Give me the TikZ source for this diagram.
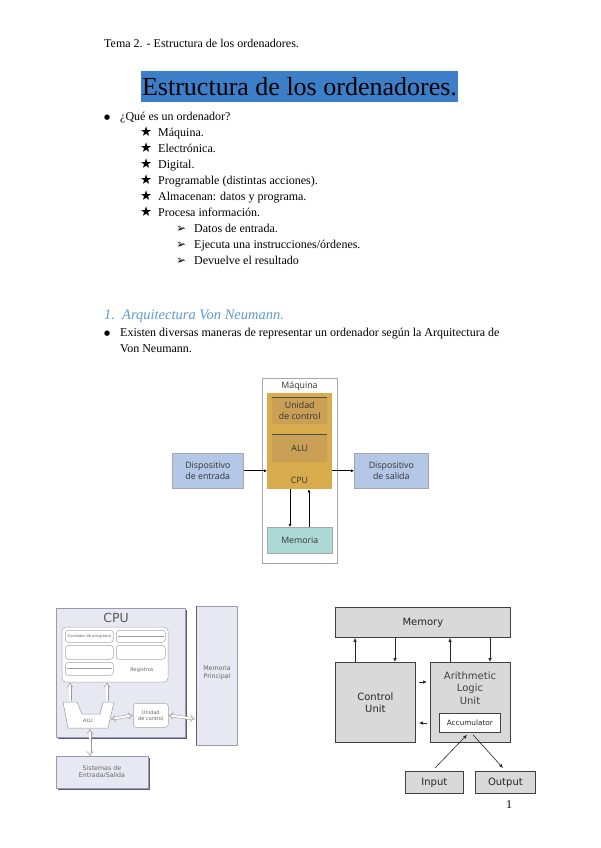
\documentclass[tikz,border=0pt]{standalone}
\usepackage{fontspec}
\setmainfont{Liberation Serif}
\newfontfamily\dsans{DejaVu Sans}
\newfontfamily\osans{Open Sans}
\usetikzlibrary{arrows.meta,calc}
\definecolor{titleblue}{HTML}{3D7EC8}
\definecolor{secblue}{HTML}{5B9BD5}
\definecolor{cpugold}{HTML}{D8AC4C}
\definecolor{innergold}{HTML}{C9A056}
\definecolor{devblue}{HTML}{B4C7E7}
\definecolor{memteal}{HTML}{ABD9D6}
\definecolor{lav}{HTML}{E8E8F2}
\definecolor{lavdark}{HTML}{5A5A80}
\definecolor{lavline}{HTML}{9A9AB0}
\definecolor{vngray}{HTML}{D9D9D9}
\definecolor{vnline}{HTML}{404040}
\tikzset{
  body/.style={anchor=base west, inner sep=0pt, font=\fontsize{12}{14}\selectfont},
  sym/.style={anchor=base west, inner sep=0pt, font=\dsans\fontsize{13.5}{14}\selectfont},
  arrsym/.style={anchor=base west, inner sep=0pt, font=\dsans\fontsize{12}{14}\selectfont},
  bul/.style={anchor=base west, inner sep=0pt, font=\dsans\fontsize{7}{8}\selectfont},
  boxA/.style={anchor=north west, inner sep=0pt, draw=gray!70, line width=0.6pt},
  lblA/.style={font=\osans\fontsize{8.8}{10.5}\selectfont, text=black!80, align=center, inner sep=0pt},
  arrA/.style={line width=1.1pt, -{Latex[length=3pt,width=3pt]}},
  arrAthin/.style={line width=0.7pt, -{Latex[length=3pt,width=3pt]}},
  lavbox/.style={fill=lav, draw=lavline, line width=0.5pt},
  pill/.style={draw=gray!70, fill=white, rounded corners=3pt, line width=0.5pt},
  tiny/.style={font=\dsans\fontsize{5}{6}\selectfont, text=black!60, align=center, inner sep=0pt},
  hol/.style={draw=gray!80, double=white, double distance=2pt, line width=0.5pt},
  vnbox/.style={anchor=north west, inner sep=0pt, fill=vngray, draw=vnline, line width=0.8pt},
  vnlbl/.style={font=\dsans\fontsize{10}{12}\selectfont, text=black!85, align=center, inner sep=0pt},
  vnarr/.style={line width=0.7pt, draw=black!85, -{Latex[length=4pt,width=3.5pt]}}
}
\begin{document}
\begin{tikzpicture}[x=1pt,y=-1pt]
\useasboundingbox[fill=white] (0,0) rectangle (600,848);

% ---------- text part ----------
\node[body] (hdr) at (104,48) {Tema 2. - Estructura de los ordenadores.};
\fill[titleblue] (141,71) rectangle (458,102);
\node[anchor=base, inner sep=0pt, font=\fontsize{26}{28}\selectfont] (title) at (299.5,95.5) {Estructura de los ordenadores.};

\node[bul] (b1) at (104,120) {●};
\node[body] (q) at (120,121) {¿Qué es un ordenador?};
\node[sym] (s1) at (140,136) {★}; \node[body] (t1) at (158,136) {Máquina.};
\node[sym] (s2) at (140,152) {★}; \node[body] (t2) at (158,152) {Electrónica.};
\node[sym] (s3) at (140,168) {★}; \node[body] (t3) at (158,168) {Digital.};
\node[sym] (s4) at (140,184) {★}; \node[body] (t4) at (158,184) {Programable (distintas acciones).};
\node[sym] (s5) at (140,200) {★}; \node[body] (t5) at (158,200) {Almacenan: datos y programa.};
\node[sym] (s6) at (140,216) {★}; \node[body] (t6) at (158,216) {Procesa información.};
\node[arrsym] (a1) at (176,232) {➢}; \node[body] (u1) at (194,232) {Datos de entrada.};
\node[arrsym] (a2) at (176,248) {➢}; \node[body] (u2) at (194,248) {Ejecuta una instrucciones/órdenes.};
\node[arrsym] (a3) at (176,264) {➢}; \node[body] (u3) at (194,264) {Devuelve el resultado};

\node[body, text=secblue, font=\itshape\fontsize{14.5}{16}\selectfont] (secn) at (104,319) {1.};
\node[body, text=secblue, font=\itshape\fontsize{14.5}{16}\selectfont] (sec) at (122,319) {Arquitectura Von Neumann.};
\node[bul] (b2) at (104,335) {●};
\node[body] (ex1) at (120,336) {Existen diversas maneras de representar un ordenador según la Arquitectura de};
\node[body] (ex2) at (120,352) {Von Neumann.};

% ---------- diagram 1 ----------
\node[boxA, fill=white, minimum width=75, minimum height=185] (maq) at (262,378) {};
\node[lblA] (maql) at (299.5,386) {Máquina};
\node[anchor=north west, inner sep=0pt, fill=cpugold, minimum width=65, minimum height=96] (cpu) at (267,393) {};
\node[anchor=north west, inner sep=0pt, fill=innergold, minimum width=55, minimum height=27] (uc) at (272,397) {};
\draw[black!70, line width=0.7pt] (uc.north west) -- (uc.north east);
\node[lblA] (ucl) at (uc.center) {Unidad\\de control};
\node[anchor=north west, inner sep=0pt, fill=innergold, minimum width=55, minimum height=28] (alu) at (272,434) {};
\draw[black!70, line width=0.7pt] (alu.north west) -- (alu.north east);
\node[lblA] (alul) at (alu.center) {ALU};
\node[lblA] (cpul) at (299.5,480) {CPU};
\node[boxA, fill=devblue, minimum width=71, minimum height=35] (ent) at (172,453) {};
\node[lblA] (entl) at (ent.center) {Dispositivo\\de entrada};
\node[boxA, fill=devblue, minimum width=74, minimum height=35] (sal) at (354,453) {};
\node[lblA] (sall) at (sal.center) {Dispositivo\\de salida};
\node[boxA, fill=memteal, minimum width=65, minimum height=26] (mem) at (267,527) {};
\node[lblA] (meml) at (mem.center) {Memoria};
\draw[arrA] (ent.east) -- (ent.east -| cpu.west);
\draw[arrA] (sal.west -| cpu.east) -- (sal.west);
\draw[arrAthin] ($(cpu.south west)+(23,0)$) -- ($(mem.north west)+(23,0)$);
\draw[arrAthin] ($(mem.north west)+(42,0)$) -- ($(cpu.south west)+(42,0)$);

% ---------- diagram 2 ----------
\fill[lavdark] (58,610) rectangle (187,739);
\filldraw[lavbox] (56,608) rectangle (185,737);
\node[font=\dsans\fontsize{12.5}{13}\selectfont, text=black!65, inner sep=0pt] (cpu2l) at (116,618) {CPU};
\draw[pill, rounded corners=4pt] (62,627) rectangle (168,682);
\node[pill, anchor=north west, minimum width=48, minimum height=12, inner sep=0pt] (r1) at (65,630) {};
\node[tiny, font=\dsans\fontsize{3.8}{4}\selectfont] (r1l) at (r1.center) {Contador de programa};
\node[pill, anchor=north west, minimum width=49, minimum height=12, inner sep=0pt] (r2) at (116,630) {};
\draw[gray!80, line width=0.8pt] ($(r2.west)+(2,0)$) -- ($(r2.east)+(-2,0)$);
\node[pill, anchor=north west, minimum width=48, minimum height=14, inner sep=0pt] (r3) at (65,645) {};
\node[pill, anchor=north west, minimum width=49, minimum height=14, inner sep=0pt] (r4) at (116,645) {};
\node[pill, anchor=north west, minimum width=48, minimum height=13, inner sep=0pt] (r5) at (65,662) {};
\draw[gray!80, line width=0.8pt] ($(r5.west)+(2,0)$) -- ($(r5.east)+(-2,0)$);
\node[tiny] (regl) at (142,670) {Registros};
\draw[fill=white, draw=gray!80, line width=0.5pt] (63,702) -- (77,702) -- (82,714) -- (100,714) -- (103,702) -- (114,702) -- (108,728) -- (68,728) -- cycle;
\node[tiny] (alu2l) at (88,721) {ALU};
\node[pill, anchor=north west, minimum width=35, minimum height=24, inner sep=0pt] (uc2) at (133,703) {};
\node[tiny] (uc2l) at (uc2.center) {Unidad\\de control};
\draw[fill=lav, draw=lavline, line width=0.5pt] (196,606) rectangle (237,745);
\draw[lavdark, line width=1pt] (196,606) -- (196,745);
\node[tiny, font=\dsans\fontsize{6.3}{7.5}\selectfont] (mp) at (217,673) {Memoria\\Principal};
\fill[lavdark] (58,758) rectangle (150,790);
\filldraw[lavbox] (56,756) rectangle (148,788);
\node[tiny, font=\dsans\fontsize{6.3}{7.5}\selectfont] (es) at (102,772) {Sistemas de\\Entrada/Salida};
\coordinate (es2) at (90,756);
\draw[hol, -{Implies}] (70,701) -- (70,682.5);
\draw[hol, -{Implies}] (107,701) -- (107,682.5);
\draw[hol, {Implies}-{Implies}] (111,719) -- (uc2.west);
\draw[hol, {Implies}-{Implies}] (uc2.east) -- (195,719);
\draw[hol, {Implies}-{Implies}] (90,729) -- (es2);

% ---------- diagram 3 ----------
\node[vnbox, minimum width=175, minimum height=30] (vmem) at (335,607) {};
\node[vnlbl] (vmeml) at (vmem.center) {Memory};
\node[vnbox, minimum width=80, minimum height=80] (vcu) at (335,662) {};
\node[vnlbl] (vcul) at (vcu.center) {Control\\Unit};
\node[vnbox, minimum width=80, minimum height=80, line width=1.4pt] (valu) at (430,662) {};
\node[vnlbl, font=\dsans\fontsize{10}{12.5}\selectfont, text=black!75] (valul) at (470,688) {Arithmetic\\Logic\\Unit};
\node[anchor=north west, inner sep=0pt, fill=white, draw=vnline, line width=0.8pt, minimum width=61, minimum height=19] (acc) at (439,713) {};
\node[vnlbl, font=\dsans\fontsize{7.3}{8}\selectfont] (accl) at (acc.center) {Accumulator};
\node[vnbox, minimum width=58, minimum height=22] (vin) at (405,771) {};
\node[vnlbl] (vinl) at (vin.center) {Input};
\node[vnbox, minimum width=60, minimum height=22] (vout) at (475,771) {};
\node[vnlbl] (voutl) at (vout.center) {Output};
\draw[vnarr] ($(vcu.north west)+(20,0)$) -- ($(vmem.south west)+(20,0)$);
\draw[vnarr] ($(vmem.south west)+(60,0)$) -- ($(vcu.north west)+(60,0)$);
\draw[vnarr] ($(valu.north west)+(20,0)$) -- ($(vmem.south west)+(115,0)$);
\draw[vnarr] ($(vmem.south west)+(155,0)$) -- ($(valu.north west)+(60,0)$);
\draw[vnarr] ($(vcu.north east)+(3,20)$) -- ($(valu.north west)+(-3,20)$);
\draw[vnarr] ($(valu.north west)+(-3,61)$) -- ($(vcu.north east)+(3,61)$);
\draw[vnarr, line width=0.6pt] ($(vin.north west)+(30,-3)$) -- ($(acc.south west)+(28,2)$);
\draw[vnarr, line width=0.6pt] ($(acc.south west)+(34,2)$) -- ($(vout.north west)+(28,-3)$);

\node[body] (pg) at (506,808) {1};
\end{tikzpicture}
\end{document}
